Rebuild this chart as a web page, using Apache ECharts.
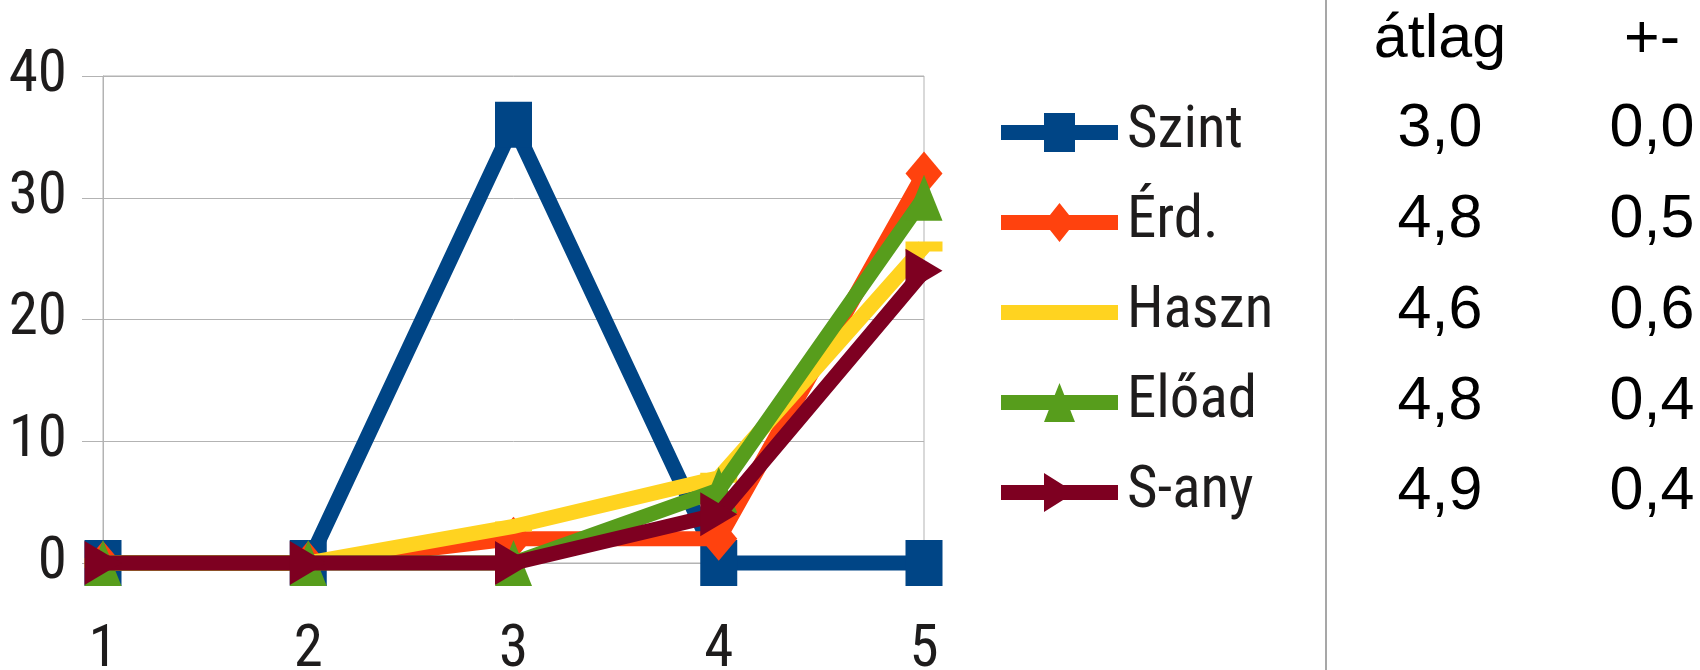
<!DOCTYPE html>
<html>
<head>
<meta charset="utf-8">
<script src="https://cdn.jsdelivr.net/npm/echarts@6/dist/echarts.min.js"></script>
<style>
html,body{margin:0;padding:0;background:#fff;}
#chart{width:1700px;height:670px;}
</style>
</head>
<body>
<div id="chart"></div>
<script>
// ---- data ----
const categories = ['1', '2', '3', '4', '5'];
const seriesNames = ['Szint', 'Érd.', 'Haszn', 'Előad', 'S-any'];
const szint = [0, 0, 36, 0, 0];
const erd   = [0, 0, 2, 2, 32];
const haszn = [0, 0, 3, 7, 26];
const eload = [0, 0, 0, 6, 30];
const sany  = [0, 0, 0, 4, 24];
const yTicks = [0, 10, 20, 30, 40];
const tableHeader = ['átlag', '+-'];
const atlag = ['3,0', '4,8', '4,6', '4,8', '4,9'];
const pm    = ['0,0', '0,5', '0,6', '0,4', '0,4'];

// ---- style ----
const FONT = "'Roboto Condensed', 'Liberation Sans Narrow', sans-serif";
const TFONT = "'Liberation Sans', Arial, sans-serif";
const FS = 59;
const TFS = 61;
const TXT = '#1e1c1c';
const GRID = '#b3b3b3';
const colors = ['#004586', '#ff420e', '#ffd320', '#579d1c', '#7e0021'];
const LW = 15;

const lineBar = 'M0,12L117,12L117,27L0,27Z';
const legendIcons = [
  'path://' + lineBar + 'M43,0L74,0L74,39L43,39Z',
  'path://' + lineBar + 'M58.5,0L74,19.5L58.5,39L43,19.5Z',
  'path://' + lineBar,
  'path://' + lineBar + 'M58.5,0L74,39L43,39Z',
  'path://' + lineBar + 'M43,0L74,19.5L43,39Z'
];

const dataSets = [szint, erd, haszn, eload, sany];
const symbols = [
  {symbol: 'rect', symbolSize: [37, 46], symbolRotate: 0},
  {symbol: 'diamond', symbolSize: [37, 44], symbolRotate: 0},
  {symbol: 'rect', symbolSize: [37, 10], symbolRotate: 0},
  {symbol: 'triangle', symbolSize: [37, 46], symbolRotate: 0},
  {symbol: 'triangle', symbolSize: [44, 37], symbolRotate: -90}
];

const series = seriesNames.map((name, i) => ({
  name: name,
  type: 'line',
  data: dataSets[i],
  z: 2 + i,
  symbol: symbols[i].symbol,
  symbolSize: symbols[i].symbolSize,
  symbolRotate: symbols[i].symbolRotate,
  showAllSymbol: true,
  clip: false,
  animation: false,
  itemStyle: {color: colors[i]},
  lineStyle: {color: colors[i], width: LW, join: 'miter'},
  emphasis: {disabled: true}
}));

const graphics = [
  {type: 'line', shape: {x1: 1326, y1: 0, x2: 1326, y2: 670}, style: {stroke: '#8a8a8a', lineWidth: 1.5}, silent: true}
];
const colX = [1440, 1652];
const rowY = [129, 220, 311, 402, 492];
tableHeader.forEach((t, c) => {
  graphics.push({type: 'text', x: colX[c], y: 40, silent: true,
    style: {text: t, fontFamily: TFONT, fontSize: TFS, fill: '#000', align: 'center', verticalAlign: 'middle'}});
});
[atlag, pm].forEach((col, c) => {
  col.forEach((t, r) => {
    graphics.push({type: 'text', x: colX[c], y: rowY[r], silent: true,
      style: {text: t, fontFamily: TFONT, fontSize: TFS, fill: '#000', align: 'center', verticalAlign: 'middle'}});
  });
});

const chart = echarts.init(document.getElementById('chart'), null, {renderer: 'canvas'});
chart.setOption({
  animation: false,
  backgroundColor: '#fff',
  textStyle: {fontFamily: FONT},
  grid: {left: 103, right: 776, top: 76, bottom: 107, show: true, borderColor: GRID, borderWidth: 1,
         containLabel: false, outerBoundsMode: 'none'},
  legend: {
    orient: 'vertical',
    left: 996,
    top: 98,
    itemWidth: 117,
    itemHeight: 39,
    itemGap: 31,
    symbolRotate: 0,
    symbolKeepAspect: true,
    selectedMode: false,
    textStyle: {fontFamily: FONT, fontSize: FS, color: TXT, padding: [0, 0, 0, 4]},
    data: seriesNames.map((n, i) => ({name: n, icon: legendIcons[i], itemStyle: {color: colors[i]}}))
  },
  xAxis: {
    type: 'category',
    data: categories,
    boundaryGap: false,
    offset: 25,
    axisLine: {show: false},
    axisTick: {show: true, length: 5, lineStyle: {color: GRID}},
    axisLabel: {fontFamily: FONT, fontSize: FS, color: TXT, margin: 34},
    splitLine: {show: false}
  },
  yAxis: {
    type: 'value',
    min: yTicks[0],
    max: yTicks[yTicks.length - 1],
    interval: yTicks[1] - yTicks[0],
    axisLine: {show: true, lineStyle: {color: GRID}},
    axisTick: {show: true, length: 21, lineStyle: {color: GRID}},
    axisLabel: {fontFamily: FONT, fontSize: FS, color: TXT, margin: 36},
    splitLine: {show: true, lineStyle: {color: GRID, width: 1}}
  },
  series: series,
  graphic: graphics
});
</script>
</body>
</html>
